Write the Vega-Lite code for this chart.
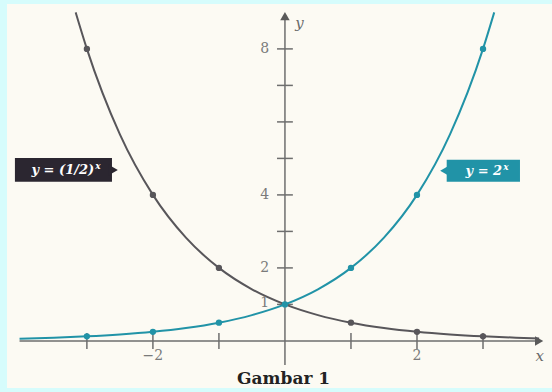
{
  "$schema": "https://vega.github.io/schema/vega-lite/v6.json",
  "width": 545,
  "height": 384,
  "autosize": {"type": "none"},
  "padding": {"left": 7, "top": 4, "right": 0, "bottom": 4},
  "background": "#d6fcfc",
  "config": {"view": {"fill": "#fcfaf3", "stroke": null}},
  "datasets": {
    "curves": [
      {"x": -4.02, "y": 0.0617, "s": "2^x"},
      {"x": -3.5, "y": 0.0884, "s": "2^x"},
      {"x": -3, "y": 0.125, "s": "2^x"},
      {"x": -2.5, "y": 0.177, "s": "2^x"},
      {"x": -2, "y": 0.25, "s": "2^x"},
      {"x": -1.5, "y": 0.354, "s": "2^x"},
      {"x": -1, "y": 0.5, "s": "2^x"},
      {"x": -0.5, "y": 0.707, "s": "2^x"},
      {"x": 0, "y": 1, "s": "2^x"},
      {"x": 0.5, "y": 1.414, "s": "2^x"},
      {"x": 1, "y": 2, "s": "2^x"},
      {"x": 1.5, "y": 2.828, "s": "2^x"},
      {"x": 2, "y": 4, "s": "2^x"},
      {"x": 2.5, "y": 5.657, "s": "2^x"},
      {"x": 3, "y": 8, "s": "2^x"},
      {"x": 3.17, "y": 9.0, "s": "2^x"},
      {"x": -3.17, "y": 9.0, "s": "half^x"},
      {"x": -3, "y": 8, "s": "half^x"},
      {"x": -2.5, "y": 5.657, "s": "half^x"},
      {"x": -2, "y": 4, "s": "half^x"},
      {"x": -1.5, "y": 2.828, "s": "half^x"},
      {"x": -1, "y": 2, "s": "half^x"},
      {"x": -0.5, "y": 1.414, "s": "half^x"},
      {"x": 0, "y": 1, "s": "half^x"},
      {"x": 0.5, "y": 0.707, "s": "half^x"},
      {"x": 1, "y": 0.5, "s": "half^x"},
      {"x": 1.5, "y": 0.354, "s": "half^x"},
      {"x": 2, "y": 0.25, "s": "half^x"},
      {"x": 2.5, "y": 0.177, "s": "half^x"},
      {"x": 3, "y": 0.125, "s": "half^x"},
      {"x": 3.5, "y": 0.0884, "s": "half^x"},
      {"x": 3.85, "y": 0.0693, "s": "half^x"}
    ],
    "dots": [
      {"x": -3, "y": 8, "s": "half^x"},
      {"x": -2, "y": 4, "s": "half^x"},
      {"x": -1, "y": 2, "s": "half^x"},
      {"x": 1, "y": 0.5, "s": "half^x"},
      {"x": 2, "y": 0.25, "s": "half^x"},
      {"x": 3, "y": 0.125, "s": "half^x"},
      {"x": -3, "y": 0.125, "s": "2^x"},
      {"x": -2, "y": 0.25, "s": "2^x"},
      {"x": -1, "y": 0.5, "s": "2^x"},
      {"x": 1, "y": 2, "s": "2^x"},
      {"x": 2, "y": 4, "s": "2^x"},
      {"x": 3, "y": 8, "s": "2^x"},
      {"x": 0, "y": 1, "s": "2^x"}
    ],
    "rules": [
      {"x": -4.02, "y": 0, "x2": 3.8, "y2": 0},
      {"x": 0, "y": -0.66, "x2": 0, "y2": 8.8},
      {"x": -3, "y": -0.22, "x2": -3, "y2": 0.22},
      {"x": -2, "y": -0.22, "x2": -2, "y2": 0.22},
      {"x": -1, "y": -0.22, "x2": -1, "y2": 0.22},
      {"x": 1, "y": -0.22, "x2": 1, "y2": 0.22},
      {"x": 2, "y": -0.22, "x2": 2, "y2": 0.22},
      {"x": 3, "y": -0.22, "x2": 3, "y2": 0.22},
      {"x": -0.12, "y": 1, "x2": 0.12, "y2": 1},
      {"x": -0.12, "y": 2, "x2": 0.12, "y2": 2},
      {"x": -0.12, "y": 3, "x2": 0.12, "y2": 3},
      {"x": -0.12, "y": 4, "x2": 0.12, "y2": 4},
      {"x": -0.12, "y": 5, "x2": 0.12, "y2": 5},
      {"x": -0.12, "y": 6, "x2": 0.12, "y2": 6},
      {"x": -0.12, "y": 7, "x2": 0.12, "y2": 7},
      {"x": -0.12, "y": 8, "x2": 0.12, "y2": 8}
    ],
    "arrows": [
      {"x": 3.85, "y": 0, "shape": "triangle-right"},
      {"x": 0, "y": 8.9, "shape": "triangle-up"}
    ],
    "ylabels": [
      {"x": -0.24, "y": 8, "t": "8"},
      {"x": -0.24, "y": 4, "t": "4"},
      {"x": -0.24, "y": 2, "t": "2"},
      {"x": -0.24, "y": 1.05, "t": "1"}
    ],
    "xlabels": [
      {"x": -2, "y": -0.4, "t": "−2"},
      {"x": 2, "y": -0.4, "t": "2"}
    ],
    "names": [
      {"x": 0.22, "y": 8.72, "t": "y"},
      {"x": 3.86, "y": -0.4, "t": "x"}
    ],
    "boxes": [
      {"x": -4.09, "x2": -2.62, "y": 5.01, "y2": 4.36, "s": "half^x"},
      {"x": 2.45, "x2": 3.56, "y": 4.96, "y2": 4.36, "s": "2^x"}
    ],
    "boxarrows": [
      {"x": -2.6, "y": 4.685, "s": "half^x", "shape": "triangle-right"},
      {"x": 2.42, "y": 4.66, "s": "2^x", "shape": "triangle-left"}
    ],
    "boxtext": [
      {"x": -2.89, "y": 4.67, "t": "y = (1/2)"},
      {"x": 3.29, "y": 4.645, "t": "y = 2"}
    ],
    "boxsup": [
      {"x": -2.875, "y": 4.8, "t": "x"},
      {"x": 3.305, "y": 4.775, "t": "x"}
    ],
    "caption": [
      {"x": -0.02, "y": -1.04, "t": "Gambar 1"}
    ]
  },
  "encoding": {
    "x": {"field": "x", "type": "quantitative", "scale": {"domain": [-4.21, 4.045], "nice": false, "zero": false}, "axis": null},
    "y": {"field": "y", "type": "quantitative", "scale": {"domain": [-1.29, 9.23], "nice": false, "zero": false}, "axis": null}
  },
  "layer": [
    {
      "data": {"name": "rules"},
      "mark": {"type": "rule", "color": "#6e6e6e", "strokeWidth": 1.5},
      "encoding": {"x2": {"field": "x2"}, "y2": {"field": "y2"}}
    },
    {
      "data": {"name": "arrows"},
      "mark": {"type": "point", "filled": true, "color": "#5a5a5a", "size": 90, "opacity": 1},
      "encoding": {"shape": {"field": "shape", "type": "nominal", "scale": null}}
    },
    {
      "data": {"name": "curves"},
      "mark": {"type": "line", "interpolate": "monotone", "strokeWidth": 2, "clip": true},
      "encoding": {
        "color": {"field": "s", "type": "nominal", "scale": {"domain": ["2^x", "half^x"], "range": ["#2193a7", "#58565a"]}, "legend": null}
      }
    },
    {
      "data": {"name": "dots"},
      "mark": {"type": "point", "filled": true, "size": 40, "opacity": 1},
      "encoding": {
        "color": {"field": "s", "type": "nominal", "scale": {"domain": ["2^x", "half^x"], "range": ["#2193a7", "#58565a"]}, "legend": null}
      }
    },
    {
      "data": {"name": "ylabels"},
      "mark": {"type": "text", "align": "right", "baseline": "middle", "font": "DejaVu Serif", "fontSize": 14, "color": "#7a7a7a"},
      "encoding": {"text": {"field": "t"}}
    },
    {
      "data": {"name": "xlabels"},
      "mark": {"type": "text", "align": "center", "baseline": "middle", "font": "DejaVu Serif", "fontSize": 14, "color": "#7a7a7a"},
      "encoding": {"text": {"field": "t"}}
    },
    {
      "data": {"name": "names"},
      "mark": {"type": "text", "align": "center", "baseline": "middle", "font": "DejaVu Serif", "fontStyle": "italic", "fontSize": 15, "color": "#6a6a6a"},
      "encoding": {"text": {"field": "t"}}
    },
    {
      "data": {"name": "boxes"},
      "mark": {"type": "rect"},
      "encoding": {
        "x2": {"field": "x2"}, "y2": {"field": "y2"},
        "color": {"field": "s", "type": "nominal", "scale": {"domain": ["2^x", "half^x"], "range": ["#2193a7", "#2b2630"]}, "legend": null}
      }
    },
    {
      "data": {"name": "boxarrows"},
      "mark": {"type": "point", "filled": true, "size": 110, "opacity": 1},
      "encoding": {
        "shape": {"field": "shape", "type": "nominal", "scale": null},
        "color": {"field": "s", "type": "nominal", "scale": {"domain": ["2^x", "half^x"], "range": ["#2193a7", "#2b2630"]}, "legend": null}
      }
    },
    {
      "data": {"name": "boxtext"},
      "mark": {"type": "text", "align": "right", "baseline": "middle", "font": "DejaVu Serif", "fontStyle": "italic", "fontWeight": "bold", "fontSize": 13, "color": "#ffffff"},
      "encoding": {"text": {"field": "t"}}
    },
    {
      "data": {"name": "boxsup"},
      "mark": {"type": "text", "align": "left", "baseline": "middle", "font": "DejaVu Serif", "fontStyle": "italic", "fontWeight": "bold", "fontSize": 9, "color": "#ffffff"},
      "encoding": {"text": {"field": "t"}}
    },
    {
      "data": {"name": "caption"},
      "mark": {"type": "text", "align": "center", "baseline": "middle", "font": "DejaVu Serif", "fontWeight": "bold", "fontSize": 17, "color": "#222222"},
      "encoding": {"text": {"field": "t"}}
    }
  ],
  "resolve": {"scale": {"color": "independent"}}
}
